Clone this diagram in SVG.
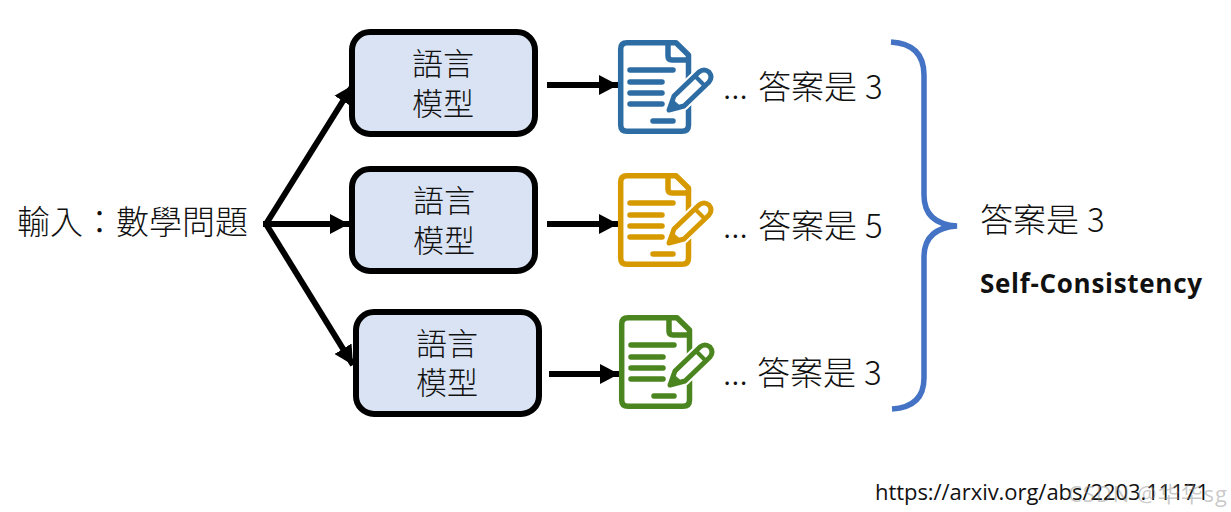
<svg xmlns="http://www.w3.org/2000/svg" width="1231" height="512" viewBox="0 0 1231 512">
<style>
text{font-family:"Noto Sans CJK TC","Noto Sans",sans-serif;fill:#111}
.box{fill:#dae3f3;stroke:#000;stroke-width:6}
.m{font-size:31px;text-anchor:middle;font-weight:300}
.ans{font-size:33px;font-weight:300}
.latin{font-family:"Open Sans",sans-serif}
.line{fill:none;stroke:#000;stroke-width:6}
.d{fill:none;stroke:currentColor;stroke-width:5.5;stroke-linecap:round;stroke-linejoin:round}
.halo{fill:#fff;stroke:#fff;stroke-width:9;stroke-linejoin:round}
.pen{fill:#fff;stroke:currentColor;stroke-width:5;stroke-linejoin:round}
</style>
<defs>
<marker id="a" markerUnits="userSpaceOnUse" markerWidth="20" markerHeight="22" refX="19" refY="11" orient="auto"><path d="M0 1L19 11L0 21z" fill="#000"/></marker>
<g id="doc">
<path class="d" d="M58 2.7H9Q2.7 2.7 2.7 9V85Q2.7 91.3 9 91.3H64Q70.5 91.3 70.5 85V15Z"/>
<path class="d" d="M50 3V16Q50 20 54 20H70"/>
<path class="d" d="M12 30H55M12 42H44M12 53H44M12 64H44M35 81H55"/>
<path class="halo" d="M51 70L56 56L81 32Q86 28 91 32Q95 37 91 42L66 66Z"/>
<path class="pen" d="M51 70L56 56L81 32Q86 28 91 32Q95 37 91 42L66 66Z"/>
<path d="M51 70L54 59L63 67Z" fill="currentColor" stroke="currentColor"/>
<path d="M77 36L87 46" stroke="currentColor" stroke-width="4" fill="none"/>
</g>
</defs>
<g id="connectors">
<path class="line" marker-end="url(#a)" d="M266 224L353 85"/>
<path class="line" marker-end="url(#a)" d="M263 224H349"/>
<path class="line" marker-end="url(#a)" d="M266 224L353 365"/>
<path class="line" marker-end="url(#a)" d="M547 85H618"/>
<path class="line" marker-end="url(#a)" d="M547 224H618"/>
<path class="line" marker-end="url(#a)" d="M549 374H619"/>
</g>
<g id="input"><text x="17" y="234" class="ans">輸入：數學問題</text></g>
<g id="model1"><rect class="box" x="352" y="32" width="183" height="102" rx="18"/><text class="m" x="443" y="75">語言</text><text class="m" x="443" y="115">模型</text></g>
<g id="model2"><rect class="box" x="352" y="169" width="183" height="102" rx="18"/><text class="m" x="444" y="212">語言</text><text class="m" x="444" y="252">模型</text></g>
<g id="model3"><rect class="box" x="356" y="312" width="183" height="102" rx="18"/><text class="m" x="447" y="355">語言</text><text class="m" x="447" y="394">模型</text></g>
<g id="doc1" color="#2e6da4"><use href="#doc" x="618" y="40"/></g>
<g id="doc2" color="#d69a00"><use href="#doc" x="618" y="173"/></g>
<g id="doc3" color="#4b851f"><use href="#doc" x="619" y="315"/></g>
<g id="answer1"><text class="ans" x="723" y="99">...<tspan x="758">答案是</tspan><tspan x="865">3</tspan></text></g>
<g id="answer2"><text class="ans" x="723" y="238">...<tspan x="758">答案是</tspan><tspan x="865">5</tspan></text></g>
<g id="answer3"><text class="ans" x="723" y="385">...<tspan x="757">答案是</tspan><tspan x="864">3</tspan></text></g>
<g id="brace"><path d="M891 42Q924 44 924 75V195Q924 224 957 226Q924 228 924 257V378Q924 407 892 409" fill="none" stroke="#4472c4" stroke-width="5.5"/></g>
<g id="result"><text class="ans" x="980" y="232">答案是<tspan x="1087">3</tspan></text></g>
<g id="label"><text class="latin" x="980" y="293" font-size="26" font-weight="700" textLength="222">Self-Consistency</text></g>
<g id="source"><text class="latin" x="875" y="500" font-size="22" textLength="334">https://arxiv.org/abs/2203.11171</text></g>
<text x="1068" y="502" font-size="22" textLength="159" fill-opacity="0.45" style="fill:#888;font-family:'Open Sans','Noto Sans CJK SC',sans-serif">CSDN @华华sg</text>
</svg>
